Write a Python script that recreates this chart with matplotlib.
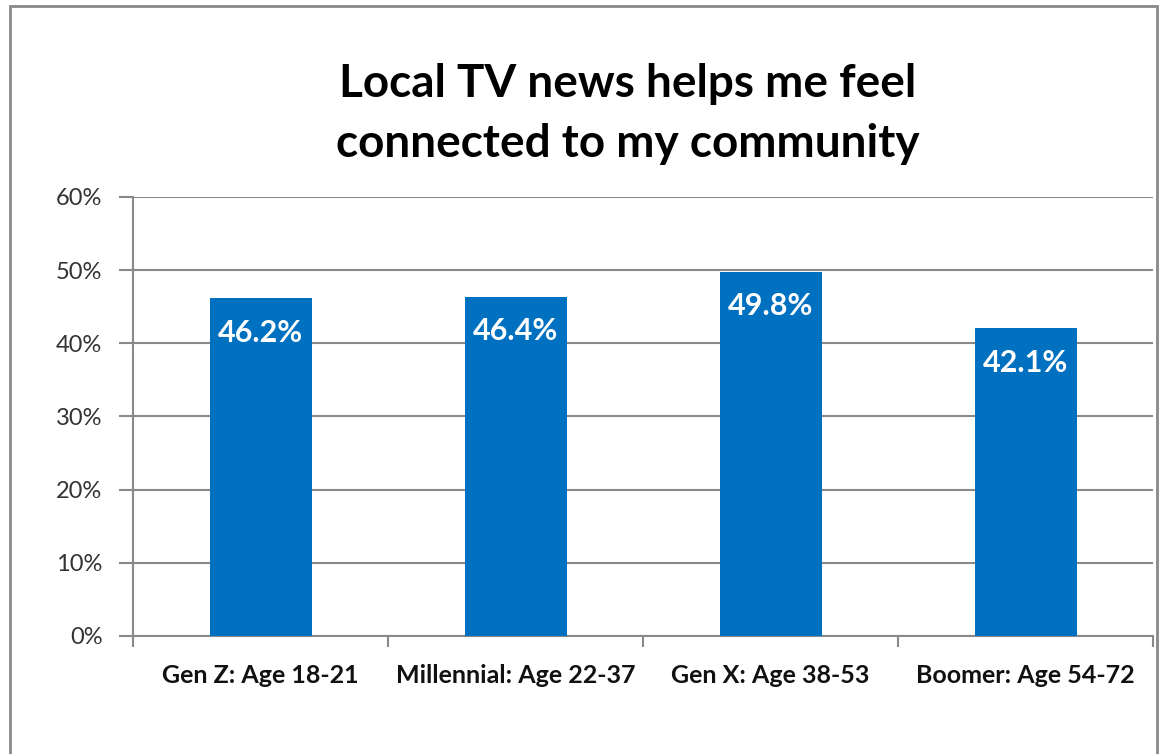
import matplotlib.pyplot as plt
import matplotlib.patches as patches
from matplotlib.ticker import FixedLocator, FuncFormatter

generations = ["Gen Z: Age 18-21", "Millennial: Age 22-37", "Gen X: Age 38-53", "Boomer: Age 54-72"]
share_pct = [46.2, 46.4, 49.8, 42.1]
y_ticks = [0, 10, 20, 30, 40, 50, 60]

plt.rcParams['font.family'] = ['Lato', 'DejaVu Sans']
grey = '#898989'
blue = '#0070C0'

fig = plt.figure(figsize=(11.63, 7.54), dpi=100)
ax = fig.add_axes([133 / 1163, 118 / 754, 1020 / 1163, 439 / 754])

x = list(range(len(generations)))
ax.bar(x, share_pct, width=0.4, color=blue, zorder=3)
for xi, v in zip(x, share_pct):
    ax.annotate(f"{v:.1f}%", (xi, v), xytext=(0, -25), textcoords='offset points',
                ha='center', va='center', color='white', fontsize=22, fontweight='bold', zorder=4)

ax.set_xlim(-0.5, len(generations) - 0.5)
ax.set_ylim(0, 60)
ax.yaxis.set_major_locator(FixedLocator(y_ticks))
ax.yaxis.set_major_formatter(FuncFormatter(lambda v, _: f"{v:.0f}%"))
ax.grid(axis='y', color=grey, linewidth=1.5, zorder=0)

ax.set_xticks(x)
ax.set_xticklabels(generations, fontsize=18, fontweight='bold', color='#111111')
ax.set_xticks([i - 0.5 for i in range(len(generations) + 1)], minor=True)
ax.tick_params(axis='x', which='major', length=0, pad=20)
ax.tick_params(axis='x', which='minor', length=8, width=1.5, color=grey, direction='out')
ax.tick_params(axis='y', length=10, width=1.5, color=grey, labelsize=17, labelcolor='#333333', pad=12)

for side in ('top', 'right'):
    ax.spines[side].set_visible(False)
for side in ('left', 'bottom'):
    ax.spines[side].set_color(grey)
    ax.spines[side].set_linewidth(1.5)

fig.text(628 / 1163, 1 - 97 / 754, "Local TV news helps me feel", ha='center', va='baseline',
         fontsize=33, fontweight='bold', color='black')
fig.text(628 / 1163, 1 - 157 / 754, "connected to my community", ha='center', va='baseline',
         fontsize=33, fontweight='bold', color='black')

# chart frame, open at the bottom
frame = patches.Rectangle((10 / 1163, -0.05), 1147 / 1163, 1.05 - 6 / 754, transform=fig.transFigure,
                          fill=False, edgecolor=grey, linewidth=2)
fig.patches.append(frame)

fig.savefig('out.png', dpi=100, facecolor='white')
